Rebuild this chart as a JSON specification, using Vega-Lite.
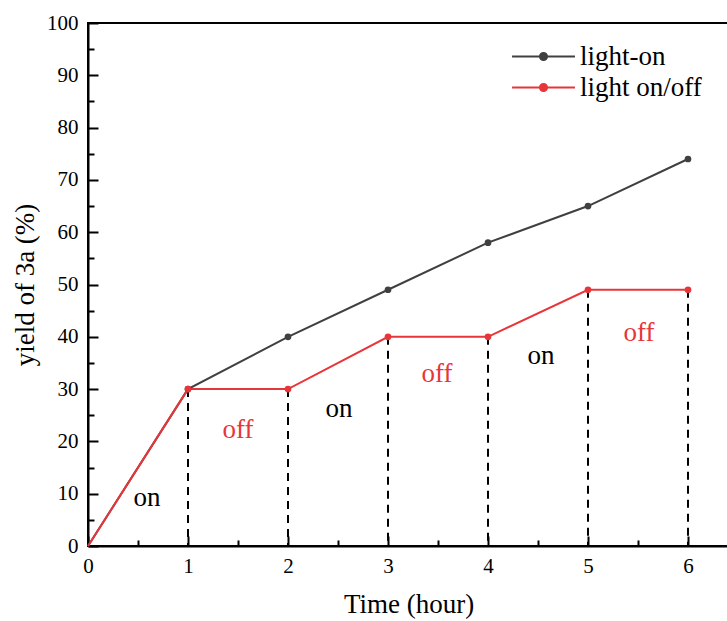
{
  "$schema": "https://vega.github.io/schema/vega-lite/v6.json",
  "width": 641,
  "height": 523,
  "autosize": "none",
  "padding": {"left": 88, "top": 23, "right": 0, "bottom": 75},
  "background": "white",
  "config": {
    "font": "Liberation Serif",
    "view": {"stroke": "black", "strokeWidth": 2},
    "axis": {
      "domainColor": "black",
      "domainWidth": 2,
      "tickColor": "black",
      "tickWidth": 2,
      "grid": false,
      "labelFlush": false,
      "labelFont": "Liberation Serif",
      "labelFontSize": 21,
      "labelColor": "black",
      "titleFont": "Liberation Serif",
      "titleFontSize": 27,
      "titleFontWeight": "normal",
      "titleColor": "black"
    }
  },
  "datasets": {
    "series": [
      {"time": 0, "yield": 0, "series": "light-on"},
      {"time": 1, "yield": 30, "series": "light-on"},
      {"time": 2, "yield": 40, "series": "light-on"},
      {"time": 3, "yield": 49, "series": "light-on"},
      {"time": 4, "yield": 58, "series": "light-on"},
      {"time": 5, "yield": 65, "series": "light-on"},
      {"time": 6, "yield": 74, "series": "light-on"},
      {"time": 0, "yield": 0, "series": "light on/off"},
      {"time": 1, "yield": 30, "series": "light on/off"},
      {"time": 2, "yield": 30, "series": "light on/off"},
      {"time": 3, "yield": 40, "series": "light on/off"},
      {"time": 4, "yield": 40, "series": "light on/off"},
      {"time": 5, "yield": 49, "series": "light on/off"},
      {"time": 6, "yield": 49, "series": "light on/off"}
    ],
    "phases": [
      {"time": 0.59, "yield": 9.2, "label": "on", "state": "on"},
      {"time": 1.5, "yield": 22.2, "label": "off", "state": "off"},
      {"time": 2.51, "yield": 26.2, "label": "on", "state": "on"},
      {"time": 3.49, "yield": 32.9, "label": "off", "state": "off"},
      {"time": 4.53, "yield": 36.3, "label": "on", "state": "on"},
      {"time": 5.51, "yield": 40.7, "label": "off", "state": "off"}
    ]
  },
  "resolve": {"axis": {"x": "independent", "y": "independent"}},
  "layer": [
    {
      "data": {"name": "series"},
      "transform": [{"filter": "datum.series === 'light on/off' && datum.time > 0"}],
      "mark": {"type": "rule", "color": "black", "strokeWidth": 2, "strokeDash": [8, 6]},
      "encoding": {
        "x": {
          "field": "time", "type": "quantitative",
          "scale": {"domain": [0, 6.41], "nice": false, "zero": false},
          "axis": {"orient": "bottom", "values": [0.5, 1.5, 2.5, 3.5, 4.5, 5.5], "tickSize": -6, "labels": false, "domain": false, "title": null}
        },
        "y": {
          "field": "yield", "type": "quantitative",
          "scale": {"domain": [0, 100], "nice": false},
          "axis": {"orient": "left", "values": [5, 15, 25, 35, 45, 55, 65, 75, 85, 95], "tickSize": -6, "labels": false, "domain": false, "title": null}
        },
        "y2": {"datum": 0}
      }
    },
    {
      "data": {"name": "series"},
      "mark": {"type": "line", "strokeWidth": 2},
      "encoding": {
        "x": {
          "field": "time", "type": "quantitative",
          "scale": {"domain": [0, 6.41], "nice": false, "zero": false},
          "axis": {"orient": "bottom", "values": [0, 1, 2, 3, 4, 5, 6], "tickSize": -10, "labelPadding": 19, "title": "Time (hour)", "titlePadding": 15}
        },
        "y": {
          "field": "yield", "type": "quantitative",
          "scale": {"domain": [0, 100], "nice": false},
          "axis": {"orient": "left", "values": [0, 10, 20, 30, 40, 50, 60, 70, 80, 90, 100], "tickSize": -10, "labelPadding": 20, "title": "yield of 3a (%)", "titlePadding": 7}
        },
        "color": {
          "field": "series", "type": "nominal",
          "scale": {"domain": ["light-on", "light on/off"], "range": ["#404040", "#e8353a"]},
          "legend": {
            "orient": "none",
            "legendX": 442,
            "legendY": 20,
            "title": null,
            "symbolType": "M-3,0L3,0M-0.34,0A0.34,0.34 0 1,1 0.34,0A0.34,0.34 0 1,1 -0.34,0Z",
            "symbolSize": 440,
            "symbolStrokeWidth": 2,
            "labelFont": "Liberation Serif",
            "labelFontSize": 27,
            "labelColor": "black",
            "labelOffset": 23,
            "rowPadding": 3,
            "encode": {"symbols": {"update": {"fill": {"scale": "color", "field": "value"}, "stroke": {"scale": "color", "field": "value"}}}}
          }
        },
        "order": {"field": "time"}
      }
    },
    {
      "data": {"name": "series"},
      "transform": [{"filter": "datum.time > 0"}],
      "mark": {"type": "point", "filled": true, "size": 45, "opacity": 1},
      "encoding": {
        "x": {"field": "time", "type": "quantitative", "axis": null},
        "y": {"field": "yield", "type": "quantitative", "axis": null},
        "color": {"field": "series", "type": "nominal", "legend": null}
      }
    },
    {
      "data": {"name": "phases"},
      "mark": {"type": "text", "font": "Liberation Serif", "fontSize": 27, "align": "center", "baseline": "middle"},
      "encoding": {
        "x": {"field": "time", "type": "quantitative", "axis": null},
        "y": {"field": "yield", "type": "quantitative", "axis": null},
        "text": {"field": "label"},
        "fill": {
          "field": "state", "type": "nominal",
          "scale": {"domain": ["on", "off"], "range": ["black", "#e8353a"]},
          "legend": null
        }
      }
    }
  ]
}
